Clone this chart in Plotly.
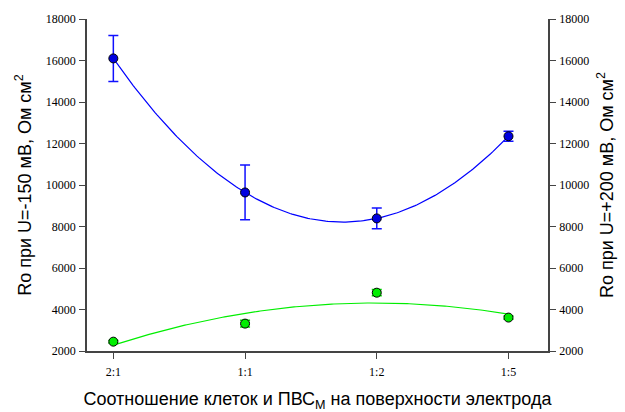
import numpy as np
import plotly.graph_objects as go

categories = ["2:1", "1:1", "1:2", "1:5"]
ro_neg150 = [16100, 9640, 8390, 12350]
ro_neg150_err = [1110, 1320, 500, 240]
ro_pos200 = [2450, 3320, 4810, 3610]
ro_pos200_err = [60, 160, 150, 80]
y_ticks = [2000, 4000, 6000, 8000, 10000, 12000, 14000, 16000, 18000]

x_idx = np.arange(len(categories))


def quad_fit(y):
    c = np.polyfit(x_idx, y, 2)
    xs = np.linspace(x_idx[0], x_idx[-1], 200)
    return xs, np.polyval(c, xs)


bx, by = quad_fit(ro_neg150)
gx, gy = quad_fit(ro_pos200)

fig = go.Figure()
fig.add_trace(go.Scatter(x=bx, y=by, mode="lines", line=dict(color="#0000ff", width=1.2),
                         hoverinfo="skip", showlegend=False))
fig.add_trace(go.Scatter(x=gx, y=gy, mode="lines", line=dict(color="#00ee00", width=1.2),
                         hoverinfo="skip", showlegend=False))
fig.add_trace(go.Scatter(
    x=x_idx, y=ro_neg150, mode="markers",
    error_y=dict(type="data", array=ro_neg150_err, color="#1010ff", thickness=1.5, width=5),
    marker=dict(color="#0000e0", size=9, line=dict(color="black", width=1)),
    showlegend=False))
fig.add_trace(go.Scatter(
    x=x_idx, y=ro_pos200, mode="markers",
    error_y=dict(type="data", array=ro_pos200_err, color="#00dd00", thickness=1.5, width=5),
    marker=dict(color="#00ee00", size=9, line=dict(color="black", width=1)),
    showlegend=False))
# invisible trace to anchor the right axis
fig.add_trace(go.Scatter(x=[x_idx[0]], y=[ro_pos200[0]], yaxis="y2", mode="markers",
                         marker=dict(opacity=0), hoverinfo="skip", showlegend=False))

tick_font = dict(family="Liberation Serif", size=12, color="black")
title_font = dict(family="Liberation Sans", size=18, color="black")
axis_col = "#444444"

fig.update_layout(
    width=625, height=412,
    margin=dict(l=87, r=77, t=19, b=61),
    paper_bgcolor="white", plot_bgcolor="white",
    xaxis=dict(
        range=[-0.2, 3.3], tickmode="array", tickvals=list(x_idx), ticktext=categories,
        showgrid=False, zeroline=False, showline=True, linecolor=axis_col, linewidth=1.5,
        ticks="outside", ticklen=6, tickcolor=axis_col, tickwidth=1.2,
        tickfont=tick_font, automargin=False, ticklabelstandoff=3,
        title=dict(text="Соотношение клеток и ПВС<sub>М</sub> на поверхности электрода",
                   font=title_font, standoff=15),
    ),
    yaxis=dict(
        range=[2000, 18000], tickvals=y_ticks, ticktext=[str(v) for v in y_ticks],
        showgrid=False, zeroline=False, showline=True, linecolor=axis_col, linewidth=1.5,
        ticks="outside", ticklen=6, tickcolor=axis_col, tickwidth=1.2,
        tickfont=tick_font, automargin=False, ticklabelstandoff=1,
        title=dict(text="Ro при U=-150 мВ, Ом см<sup>2</sup>", font=title_font, standoff=10),
    ),
    yaxis2=dict(
        range=[2000, 18000], tickvals=y_ticks, ticktext=[str(v) for v in y_ticks],
        overlaying="y", side="right",
        showgrid=False, zeroline=False, showline=True, linecolor=axis_col, linewidth=1.5,
        ticks="outside", ticklen=6, tickcolor=axis_col, tickwidth=1.2,
        tickfont=tick_font, automargin=False, ticklabelstandoff=1,
        title=dict(text="Ro при U=+200 мВ, Ом см<sup>2</sup>", font=title_font, standoff=12),
    ),
)

fig.write_html("out.html")
